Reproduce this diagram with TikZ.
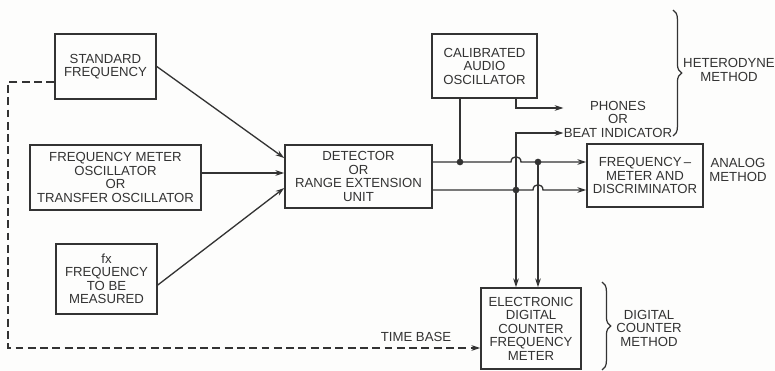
\documentclass[tikz,border=0pt]{standalone}
\usepackage{fontspec}
\setmainfont{Liberation Sans}
\usepackage{tikz}
\usepackage{xcolor}
\usetikzlibrary{arrows.meta,positioning,calc,decorations.pathreplacing}
\definecolor{ink}{HTML}{333333}
\definecolor{sheet}{HTML}{FDFDFC}
\tikzset{
  block/.style={draw=ink,line width=0.9pt,align=center,inner sep=0pt,
                font=\fontsize{7.5}{7.7}\selectfont,text=ink},
  lbl/.style={align=center,inner sep=0pt,font=\fontsize{7.5}{7.7}\selectfont,
              text=ink},
  sig/.style={-{Stealth[length=5pt,width=3.2pt]},line width=0.75pt,draw=ink},
  wire/.style={line width=0.75pt,draw=ink},
  tbline/.style={-{Stealth[length=5pt,width=3.2pt]},line width=0.75pt,
                 draw=ink,dash pattern=on 4.5pt off 2.5pt},
  junc/.style={circle,fill=ink,inner sep=0pt,minimum size=3.8pt},
  mbrace/.style={decorate,decoration={brace,amplitude=5pt},
                 line width=0.7pt,draw=ink}
}
\begin{document}
\begin{tikzpicture}[x=0.02cm,y=-0.02cm]
    \path[use as bounding box,fill=sheet] (0,0) rectangle (775,371);

    % source blocks
    \node[block,minimum width=2.02cm,minimum height=1.30cm] (stdf) at (105.5,66.5)
      {STANDARD\\FREQUENCY};
    \node[block,minimum width=3.42cm,minimum height=1.30cm] (fmo) at (115.5,177.5)
      {FREQUENCY METER\\OSCILLATOR\\OR\\TRANSFER OSCILLATOR};
    \node[block,minimum width=2.02cm,minimum height=1.40cm] (fx) at (106.5,279)
      {fx\\FREQUENCY\\TO BE\\MEASURED};
    \node[block,minimum width=2.94cm,minimum height=1.26cm] (det) at (358.5,176.5)
      {DETECTOR\\OR\\RANGE EXTENSION\\UNIT};
    \node[block,minimum width=2.10cm,minimum height=1.28cm] (cao) at (484.5,66)
      {CALIBRATED\\AUDIO\\OSCILLATOR};
    \node[block,minimum width=2.32cm,minimum height=1.26cm] (disc) at (645,175.5)
      {FREQUENCY\,--\\METER AND\\DISCRIMINATOR};
    \node[block,minimum width=2.00cm,minimum height=1.62cm] (cnt) at (531,328.5)
      {ELECTRONIC\\DIGITAL\\COUNTER\\FREQUENCY\\METER};

    \node[lbl] (phones) at (618,119) {PHONES\\OR\\BEAT INDICATOR};
    \node[lbl] (het) at (729,70) {HETERODYNE\\METHOD};
    \node[lbl] (ana) at (738,170) {ANALOG\\METHOD};
    \node[lbl] (dig) at (649,328) {DIGITAL\\COUNTER\\METHOD};
    \node[lbl] (tb) at (416,337) {TIME BASE};

    \coordinate (j1) at (460,162);
    \coordinate (j2) at (538,162);
    \coordinate (j3) at (516,190);
    \coordinate (x1) at (516,162);
    \coordinate (x2) at (538,190);
    \coordinate (tbc) at (8,348);

    % inputs to detector
    \draw[sig] (stdf.east) -- ($(det.west)+(0,-18.5)$);
    \draw[sig] ($(fmo.east)+(0,-4.5)$) -- ($(det.west)+(0,-3.5)$);
    \draw[sig] ($(fx.east)+(0,6)$) -- ($(det.west)+(0,11.5)$);

    % detector outputs with cross-over hops
    \draw[sig] (det.east |- j1) -- ($(x1)+(-5,0)$)
      .. controls +(0,-7) and +(0,-7) .. ($(x1)+(5,0)$) -- (disc.west |- j1);
    \draw[sig] (det.east |- j3) -- ($(x2)+(-5,0)$)
      .. controls +(0,-7) and +(0,-7) .. ($(x2)+(5,0)$) -- (disc.west |- j3);

    \draw[wire] (cao.south -| j1) -- (j1);
    \draw[sig] (cao.south -| x1) |- ($(phones.west)+(0,-11)$);
    \draw[sig] (j3) |- ($(phones.west)+(0,14)$);
    \draw[sig] (j3) -- (j3 |- cnt.north);
    \draw[sig] (j2) -- (j2 |- cnt.north);

    \node[junc] (d1) at (j1) {};
    \node[junc] (d2) at (j2) {};
    \node[junc] (d3) at (j3) {};

    % time base
    \draw[tbline] ($(stdf.west)+(0,15.5)$) -| (tbc) -- (tbc -| cnt.west);

    % method braces
    \draw[mbrace] (673,10) -- (673,136);
    \draw[mbrace] (602,282) -- (602,370);
  \end{tikzpicture}
\end{document}
